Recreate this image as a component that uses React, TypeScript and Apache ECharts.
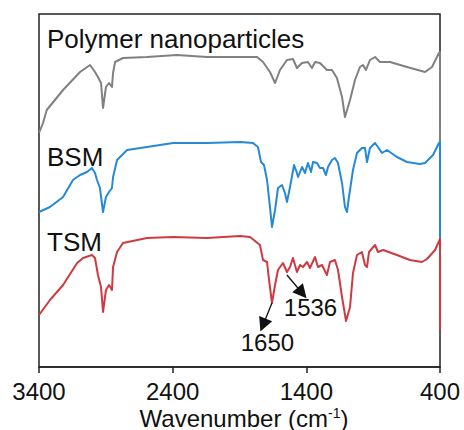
import React, { useEffect, useRef } from "react";
import * as echarts from "echarts";

// Wavenumber (cm-1) / relative transmittance (arbitrary, offset units)
const polymerWn = [3400, 3370, 3342, 3220, 3093, 3018, 2981, 2959, 2936, 2921, 2899, 2876, 2854, 2846, 2831, 2772, 2592, 2368, 2143, 1769, 1724, 1672, 1634, 1597, 1545, 1500, 1470, 1433, 1388, 1358, 1335, 1298, 1246, 1208, 1171, 1133, 1111, 1073, 1036, 999, 976, 954, 924, 886, 849, 774, 647, 512, 460, 408, 400, 400];
const polymerT = [234, 244, 257, 277, 295, 302, 295, 290, 284, 259, 280, 284, 280, 294, 305, 309, 310, 312, 310, 310, 305, 295, 284, 297, 307, 308, 299, 304, 305, 299, 305, 304, 297, 297, 289, 270, 250, 267, 287, 300, 302, 297, 307, 310, 305, 305, 300, 295, 300, 314, 315, 224];

const bsmWn = [3400, 3318, 3220, 3146, 3093, 3041, 3004, 2981, 2966, 2944, 2921, 2899, 2876, 2854, 2846, 2816, 2741, 2592, 2398, 2143, 1896, 1799, 1762, 1739, 1717, 1694, 1672, 1657, 1634, 1612, 1582, 1560, 1545, 1522, 1492, 1470, 1462, 1432, 1410, 1388, 1365, 1350, 1320, 1298, 1275, 1253, 1238, 1208, 1186, 1163, 1133, 1111, 1096, 1081, 1051, 1021, 984, 961, 946, 924, 886, 864, 834, 797, 722, 647, 550, 512, 452, 408, 400, 400];
const bsmT = [155, 160, 170, 187, 192, 195, 199, 194, 187, 179, 155, 170, 175, 179, 190, 207, 217, 220, 224, 224, 225, 224, 220, 205, 202, 187, 160, 140, 157, 179, 182, 174, 165, 180, 202, 194, 190, 200, 194, 204, 195, 205, 204, 199, 199, 192, 200, 207, 209, 204, 184, 160, 155, 170, 197, 214, 219, 219, 205, 219, 224, 220, 214, 217, 210, 205, 203, 204, 212, 224, 225, 129];

const tsmWn = [3400, 3318, 3220, 3115, 3070, 3004, 2981, 2959, 2936, 2921, 2899, 2876, 2854, 2846, 2816, 2772, 2592, 2398, 2143, 1896, 1821, 1747, 1724, 1694, 1679, 1657, 1634, 1612, 1575, 1545, 1522, 1500, 1470, 1447, 1425, 1395, 1373, 1335, 1313, 1283, 1246, 1223, 1186, 1163, 1133, 1103, 1073, 1051, 1021, 984, 961, 946, 931, 886, 864, 826, 722, 625, 535, 497, 437, 400, 400];
const tsmT = [52, 67, 82, 104, 109, 112, 109, 92, 80, 55, 77, 82, 77, 100, 115, 124, 129, 130, 129, 131, 130, 122, 107, 105, 87, 64, 82, 97, 104, 95, 100, 109, 95, 102, 100, 105, 99, 110, 100, 102, 92, 105, 107, 97, 70, 46, 60, 94, 112, 115, 102, 100, 115, 122, 115, 117, 112, 107, 105, 108, 117, 128, 37];

const xTicks = [400, 1400, 2400, 3400];
const seriesNames = ["Polymer nanoparticles", "BSM", "TSM"];
const xTitle = "{t|Wavenumber (cm}{s|-1}{t|)}";

// annotation arrows on TSM: [fromWn, fromT, toWn, toT]
const arrow1536 = [1545, 92, 1432, 74];
const arrow1650 = [1657, 64, 1724, 42];
const labelPeaks = [
  { text: "1536", wn: 1369, t: 60 },
  { text: "1650", wn: 1691, t: 25 },
];

const FONT = "Liberation Sans, Arial, sans-serif";

function zip(xs: number[], ys: number[]) {
  return xs.map((x, i) => [x, ys[i]]);
}

export default function App() {
  const ref = useRef<HTMLDivElement>(null);
  useEffect(() => {
    if (!ref.current) return;
    const chart = echarts.init(ref.current, null, { renderer: "svg" });
    const lineBase = {
      type: "line" as const,
      showSymbol: false,
      symbol: "none",
      smooth: false,
      z: 3,
    };
    chart.setOption({
      animation: false,
      backgroundColor: "#fff",
      grid: {
        left: 39,
        right: 24,
        top: 14,
        bottom: 63,
        show: true,
        borderColor: "#222",
        borderWidth: 1.5,
        backgroundColor: "transparent",
        outerBoundsMode: "none",
        containLabel: false,
      },
      xAxis: {
        type: "value",
        min: 400,
        max: 3400,
        inverse: true,
        splitLine: { show: false },
        axisLine: { show: true, lineStyle: { color: "#222", width: 1.5 } },
        axisTick: { show: true, inside: false, length: 6, customValues: xTicks, lineStyle: { color: "#222", width: 1.5 } },
        axisLabel: {
          customValues: xTicks,
          fontSize: 24,
          color: "#111",
          fontFamily: FONT,
          margin: 12,
          formatter: (v: number) => String(v),
        },
      },
      yAxis: { type: "value", min: 0, max: 353, show: false },
      series: [
        { ...lineBase, name: seriesNames[0], data: zip(polymerWn, polymerT), lineStyle: { color: "#808080", width: 2, join: "round" } },
        { ...lineBase, name: seriesNames[1], data: zip(bsmWn, bsmT), lineStyle: { color: "#2689d8", width: 2, join: "round" } },
        {
          ...lineBase,
          name: seriesNames[2],
          data: zip(tsmWn, tsmT),
          lineStyle: { color: "#cf3a40", width: 2, join: "round" },
          markLine: {
            silent: true,
            symbol: ["none", "triangle"],
            symbolSize: 14,
            lineStyle: { color: "#111", width: 1.3, type: "solid" },
            itemStyle: { color: "#111" },
            label: { show: false },
            data: [
              [{ coord: [arrow1536[0], arrow1536[1]] }, { coord: [arrow1536[2], arrow1536[3]] }],
              [{ coord: [arrow1650[0], arrow1650[1]] }, { coord: [arrow1650[2], arrow1650[3]] }],
            ],
          },
          markPoint: {
            silent: true,
            symbol: "circle",
            symbolSize: 1,
            itemStyle: { color: "rgba(0,0,0,0)" },
            label: { show: true, position: "inside", fontSize: 24, fontFamily: FONT, color: "#111", formatter: (p: any) => p.name },
            data: labelPeaks.map((l) => ({ name: l.text, coord: [l.wn, l.t] })),
          },
        },
      ],
      graphic: [
        { type: "text", left: 47, top: 26, style: { text: seriesNames[0], fontSize: 26, fontFamily: FONT, fill: "#111" } },
        { type: "text", left: 47, top: 144, style: { text: seriesNames[1], fontSize: 26, fontFamily: FONT, fill: "#111" } },
        { type: "text", left: 47, top: 229, style: { text: seriesNames[2], fontSize: 26, fontFamily: FONT, fill: "#111" } },
        {
          type: "text",
          x: 244,
          y: 418,
          style: {
            text: xTitle,
            align: "center",
            verticalAlign: "middle",
            textAlign: "center",
            textVerticalAlign: "middle",
            rich: {
              t: { fontSize: 24, fontFamily: FONT, fill: "#111", color: "#111" },
              s: { fontSize: 14, fontFamily: FONT, fill: "#111", color: "#111", verticalAlign: "top" },
            },
          },
        },
      ],
    });
    return () => chart.dispose();
  }, []);
  return <div ref={ref} style={{ position: "fixed", left: 0, top: 0, width: 464, height: 430 }} />;
}
